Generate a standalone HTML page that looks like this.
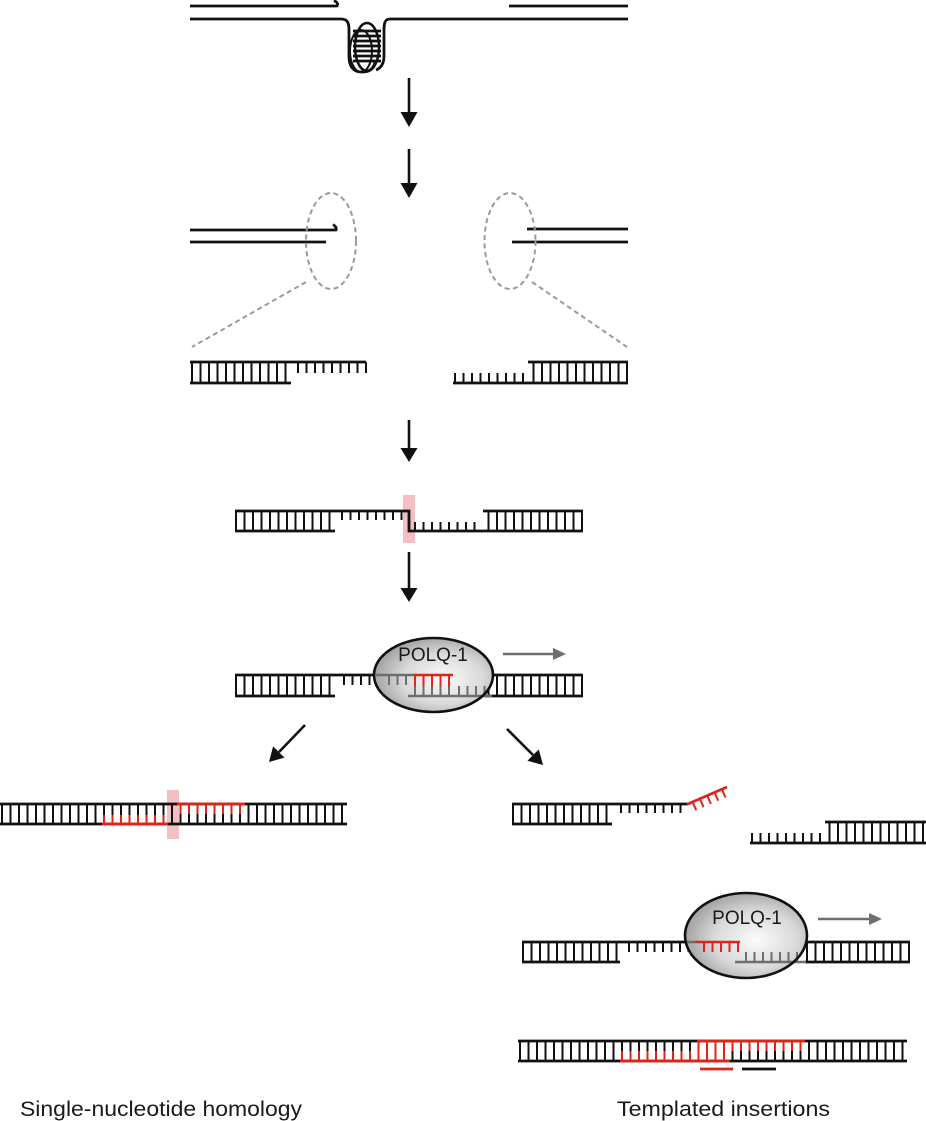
<!DOCTYPE html>
<html><head><meta charset="utf-8"><style>
html,body{margin:0;padding:0;background:#fff;}
svg{display:block;}
text{font-family:"Liberation Sans",Arial,sans-serif;}
.r{stroke-dasharray:2 6.5;}
</style></head><body>
<svg width="926" height="1121" viewBox="0 0 926 1121" xmlns="http://www.w3.org/2000/svg">
<defs>
<radialGradient id="g" cx="0.58" cy="0.55" r="0.62">
<stop offset="0" stop-color="#fbfbfb"/>
<stop offset="0.55" stop-color="#d9d9d9"/>
<stop offset="1" stop-color="#9a9a9a"/>
</radialGradient>
</defs>
<rect width="926" height="1121" fill="#fff"/>

<!-- Panel 1: G4 -->
<g fill="none" stroke="#111" stroke-width="2.8" stroke-linejoin="round">
<path d="M190 6 H337 Q339 3 334 0.5"/>
<line x1="509" y1="6" x2="628" y2="6"/>
<path d="M190 19 H341 C347 19 349 22 349 30 V56 C349 68 354 72 362 72 C370 72 374 68 375 62"/>
<path d="M628 19 H390 C385 19 384 23 384 30 V56 C384 64 381 68 376 70"/>
<ellipse cx="367" cy="47" rx="12" ry="24" stroke-width="2.5"/>
<ellipse cx="361" cy="51" rx="11" ry="21" stroke-width="2"/>
<line x1="353" y1="31" x2="381" y2="31"/>
<line x1="353" y1="36" x2="381" y2="36"/>
<line x1="353" y1="41" x2="381" y2="41"/>
<line x1="353" y1="46" x2="381" y2="46"/>
<line x1="353" y1="51" x2="381" y2="51"/>
<line x1="353" y1="56" x2="381" y2="56"/>
<line x1="353" y1="61" x2="381" y2="61"/>
</g>

<!-- Vertical arrows -->
<g stroke="#111" stroke-width="2.6" fill="#111">
<line x1="409" y1="78" x2="409" y2="114"/><polygon stroke="none" points="400.5,112 417.5,112 409,127"/>
<line x1="409" y1="149" x2="409" y2="185"/><polygon stroke="none" points="400.5,183 417.5,183 409,198"/>
<line x1="409" y1="420" x2="409" y2="450"/><polygon stroke="none" points="400.5,448 417.5,448 409,462"/>
<line x1="409" y1="552" x2="409" y2="590"/><polygon stroke="none" points="400.5,588 417.5,588 409,602"/>
<!-- diagonal arrows -->
<line x1="305" y1="725" x2="279" y2="752"/><polygon stroke="none" points="269,762 284.5,757.6 273.1,746.4"/>
<line x1="507" y1="729" x2="533" y2="755"/><polygon stroke="none" points="543,765 527.4,760.8 538.8,749.4"/>
</g>

<!-- Panel 2: broken ends -->
<g fill="none" stroke="#111" stroke-width="2.8" stroke-linejoin="round">
<path d="M190 230 H336 Q337 227 333 224.5"/>
<line x1="190" y1="242" x2="326" y2="242"/>
<line x1="527" y1="229" x2="628" y2="229"/>
<line x1="512" y1="242" x2="628" y2="242"/>
</g>
<g fill="none" stroke="#9a9a9a" stroke-width="2" stroke-dasharray="5 3.5">
<ellipse cx="331" cy="241" rx="25" ry="48"/>
<ellipse cx="510" cy="241" rx="25.5" ry="48"/>
<line x1="306" y1="282" x2="192" y2="347"/>
<line x1="532" y1="282" x2="627" y2="347"/>
</g>

<!-- Ladders panel 2 -->
<g fill="none" stroke="#111">
<line x1="190" y1="362" x2="366" y2="362" stroke-width="2.8"/>
<line x1="190" y1="383" x2="291" y2="383" stroke-width="2.8"/>
<line class="r" x1="191" y1="372.5" x2="292" y2="372.5" stroke-width="21"/>
<line class="r" x1="297" y1="367.5" x2="367" y2="367.5" stroke-width="11"/>
<line x1="453" y1="383" x2="628" y2="383" stroke-width="2.8"/>
<line x1="528" y1="362" x2="628" y2="362" stroke-width="2.8"/>
<line class="r" x1="628" y1="372.5" x2="528" y2="372.5" stroke-width="21"/>
<line class="r" x1="454" y1="378" x2="524" y2="378" stroke-width="10"/>
</g>

<!-- Panel 3: alignment -->
<rect x="403" y="495" width="12" height="48" fill="#f3bfc2"/>
<g fill="none" stroke="#111">
<path d="M235 511 H409 V531 H583" stroke-width="2.8"/>
<line x1="235" y1="531" x2="335" y2="531" stroke-width="2.8"/>
<line x1="483" y1="511" x2="583" y2="511" stroke-width="2.8"/>
<line class="r" x1="235" y1="521" x2="336" y2="521" stroke-width="20"/>
<line class="r" x1="341" y1="515.5" x2="405" y2="515.5" stroke-width="9"/>
<line class="r" x1="583" y1="521" x2="484" y2="521" stroke-width="20"/>
<line class="r" x1="414" y1="526.5" x2="482" y2="526.5" stroke-width="9"/>
</g>

<!-- Panel 4: POLQ-1 -->
<g fill="none" stroke="#111">
<line x1="235" y1="675" x2="376" y2="675" stroke-width="2.8"/>
<line x1="235" y1="696" x2="335" y2="696" stroke-width="2.8"/>
<line class="r" x1="235" y1="685.5" x2="336" y2="685.5" stroke-width="21"/>
<line class="r" x1="343" y1="680" x2="376" y2="680" stroke-width="10"/>
<line x1="485" y1="675" x2="583" y2="675" stroke-width="2.8"/>
<line x1="485" y1="696" x2="583" y2="696" stroke-width="2.8"/>
<line class="r" x1="583" y1="685.5" x2="486" y2="685.5" stroke-width="21"/>
</g>
<ellipse cx="433.5" cy="675" rx="59.5" ry="37" fill="url(#g)"/>
<g fill="none" stroke="#6e6e6e">
<line x1="376" y1="675" x2="413" y2="675" stroke-width="2.6"/>
<line class="r" x1="388" y1="680" x2="410" y2="680" stroke-width="10"/>
<line x1="408" y1="696" x2="492" y2="696" stroke-width="2.6"/>
<line class="r" x1="414" y1="686" x2="454" y2="686" stroke-width="20"/>
<line class="r" x1="458" y1="691" x2="486" y2="691" stroke-width="10"/>
</g>
<g fill="none" stroke="#e2231a">
<line x1="413" y1="675" x2="453" y2="675" stroke-width="2.6"/>
<line class="r" x1="414" y1="681" x2="454" y2="681" stroke-width="11"/>
</g>
<ellipse cx="433.5" cy="675" rx="59.5" ry="37" fill="none" stroke="#111" stroke-width="2.6"/>
<text x="433" y="661" font-size="19" text-anchor="middle" fill="#1a1a1a">POLQ-1</text>
<g stroke="#6e6e6e" fill="#6e6e6e">
<line x1="503" y1="654" x2="555" y2="654" stroke-width="2.6"/>
<polygon stroke="none" points="553,648 566,654 553,660"/>
</g>

<!-- Bottom left: single-nucleotide homology -->
<rect x="167" y="790" width="12" height="49" fill="#f3bfc2"/>
<g fill="none">
<line x1="0" y1="804" x2="347" y2="804" stroke="#111" stroke-width="2.8"/>
<line x1="0" y1="824" x2="347" y2="824" stroke="#111" stroke-width="2.8"/>
<line class="r" x1="1" y1="814" x2="347" y2="814" stroke="#111" stroke-width="20"/>
<line x1="102" y1="824" x2="168" y2="824" stroke="#e2231a" stroke-width="2.8"/>
<line x1="177" y1="804" x2="245" y2="804" stroke="#e2231a" stroke-width="2.8"/>
<line class="r" x1="103" y1="819.5" x2="168" y2="819.5" stroke="#e2231a" stroke-width="9"/>
<line class="r" x1="179.5" y1="809" x2="245" y2="809" stroke="#e2231a" stroke-width="10"/>
</g>

<!-- Right: annealing failure / snap-back -->
<g fill="none" stroke="#111">
<line x1="512" y1="804" x2="688" y2="804" stroke-width="2.8"/>
<line x1="512" y1="824" x2="612" y2="824" stroke-width="2.8"/>
<line class="r" x1="512" y1="814" x2="613" y2="814" stroke-width="20"/>
<line class="r" x1="620" y1="808.5" x2="688" y2="808.5" stroke-width="9"/>
<line x1="750" y1="843" x2="926" y2="843" stroke-width="2.8"/>
<line x1="825" y1="822" x2="926" y2="822" stroke-width="2.8"/>
<line class="r" x1="924" y1="832.5" x2="825" y2="832.5" stroke-width="21"/>
<line class="r" x1="751" y1="838" x2="823" y2="838" stroke-width="10"/>
</g>
<g fill="none" stroke="#e2231a">
<line x1="687" y1="804.4" x2="727" y2="787" stroke-width="2.8"/>
<line x1="692.6" y1="802" x2="696.2" y2="810.3" stroke-width="2"/>
<line x1="699.9" y1="798.8" x2="703.5" y2="807.1" stroke-width="2"/>
<line x1="707.3" y1="795.6" x2="710.9" y2="803.9" stroke-width="2"/>
<line x1="714.6" y1="792.4" x2="718.2" y2="800.7" stroke-width="2"/>
<line x1="721.9" y1="789.2" x2="725.5" y2="797.5" stroke-width="2"/>
</g>

<!-- Second POLQ-1 -->
<g fill="none" stroke="#111">
<line x1="522" y1="942" x2="688" y2="942" stroke-width="2.8"/>
<line x1="522" y1="962" x2="620" y2="962" stroke-width="2.8"/>
<line class="r" x1="522" y1="952" x2="621" y2="952" stroke-width="20"/>
<line class="r" x1="628" y1="947" x2="688" y2="947" stroke-width="10"/>
<line x1="805" y1="942" x2="910" y2="942" stroke-width="2.8"/>
<line x1="805" y1="962" x2="910" y2="962" stroke-width="2.8"/>
<line class="r" x1="910" y1="952" x2="806" y2="952" stroke-width="20"/>
</g>
<ellipse cx="746" cy="935.5" rx="61" ry="42.5" fill="url(#g)"/>
<g fill="none" stroke="#6e6e6e">
<line x1="686" y1="942" x2="695" y2="942" stroke-width="2.6"/>
<line x1="735" y1="962" x2="806" y2="962" stroke-width="2.6"/>
<line class="r" x1="745" y1="957" x2="800" y2="957" stroke-width="10"/>
</g>
<g fill="none" stroke="#e2231a">
<line x1="695" y1="942" x2="740" y2="942" stroke-width="2.6"/>
<line class="r" x1="703" y1="947" x2="740" y2="947" stroke-width="10"/>
</g>
<ellipse cx="746" cy="935.5" rx="61" ry="42.5" fill="none" stroke="#111" stroke-width="2.6"/>
<text x="747" y="924" font-size="19" text-anchor="middle" fill="#1a1a1a">POLQ-1</text>
<g stroke="#6e6e6e" fill="#6e6e6e">
<line x1="818" y1="919" x2="871" y2="919" stroke-width="2.6"/>
<polygon stroke="none" points="869,913 882,919 869,925"/>
</g>

<!-- Bottom right: templated insertions -->
<g fill="none">
<line x1="518" y1="1041" x2="907" y2="1041" stroke="#111" stroke-width="2.8"/>
<line x1="518" y1="1061" x2="907" y2="1061" stroke="#111" stroke-width="2.8"/>
<line class="r" x1="519" y1="1051" x2="907" y2="1051" stroke="#111" stroke-width="20"/>
<line x1="697" y1="1041" x2="805" y2="1041" stroke="#e2231a" stroke-width="2.8"/>
<line x1="620" y1="1061" x2="730" y2="1061" stroke="#e2231a" stroke-width="2.8"/>
<line class="r" x1="621" y1="1056" x2="697" y2="1056" stroke="#e2231a" stroke-width="10"/>
<line class="r" x1="697.5" y1="1051" x2="730" y2="1051" stroke="#e2231a" stroke-width="20"/>
<line class="r" x1="731.5" y1="1046" x2="805" y2="1046" stroke="#e2231a" stroke-width="10"/>
<line x1="700" y1="1069" x2="733" y2="1069" stroke="#e2231a" stroke-width="2.8"/>
<line x1="742" y1="1069" x2="776" y2="1069" stroke="#111" stroke-width="2.8"/>
</g>

<!-- Labels -->
<text x="20" y="1116" font-size="21" fill="#1a1a1a" textLength="282" lengthAdjust="spacingAndGlyphs">Single-nucleotide homology</text>
<text x="617" y="1116" font-size="21" fill="#1a1a1a" textLength="213" lengthAdjust="spacingAndGlyphs">Templated insertions</text>
</svg>
</body></html>
